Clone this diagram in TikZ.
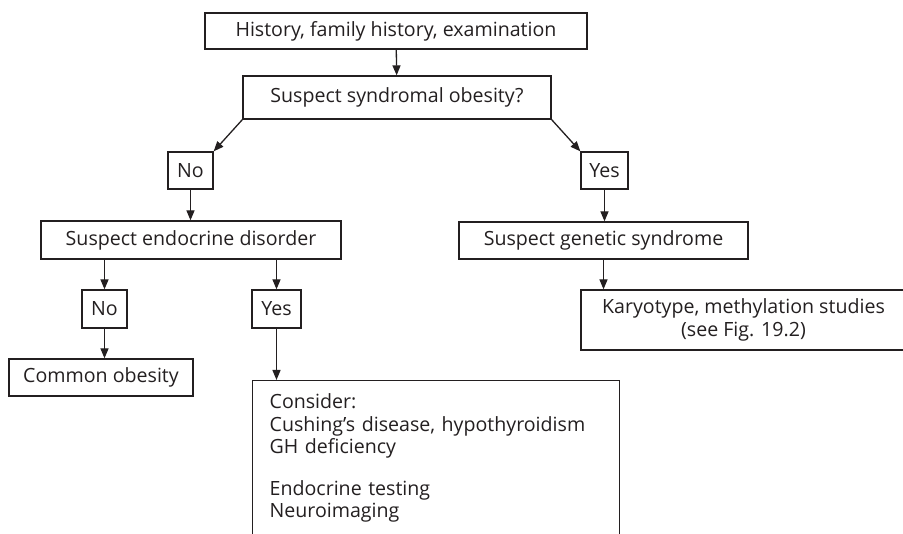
\documentclass[tikz,border=0pt]{standalone}
\usepackage{fontspec}
\setmainfont{Open Sans}
\usetikzlibrary{positioning,arrows.meta}
\definecolor{ink}{HTML}{231F20}
\begin{document}
\begin{tikzpicture}[x=1pt,y=1pt,
  box/.style={draw=ink,line width=1.3pt,inner sep=0pt,text=ink,
    font=\fontsize{19.6}{22.5}\selectfont},
  arr/.style={draw=ink,line width=1.3pt,-{Triangle[length=10pt,width=8pt]}}]
\useasboundingbox (0,0) rectangle (903,-534);
\clip (0,0) rectangle (903,-534);
\node[box,minimum width=382,minimum height=36] (hist) at (396,-31) {History, family history, examination};
\node[box,minimum width=308,minimum height=43] (synd) at (397,-97.5) {Suspect syndromal obesity?};
\node[box,minimum width=45,minimum height=37] (noA) at (190.5,-170.5) {No};
\node[box,minimum width=47,minimum height=37] (yesA) at (604.5,-170.5) {Yes};
\node[box,minimum width=300,minimum height=38] (endo) at (191,-240) {Suspect endocrine disorder};
\node[box,minimum width=289,minimum height=37] (gene) at (603.5,-240.5) {Suspect genetic syndrome};
\node[box,minimum width=45,minimum height=38] (noB) at (104.5,-309) {No};
\node[box,minimum width=49,minimum height=38] (yesB) at (276.5,-309) {Yes};
\node[box,minimum width=325,minimum height=60,align=center] (karyo) at (743.5,-320)
  {Karyotype, methylation studies\\(see Fig. 19.2)};
\node[box,minimum width=184,minimum height=37] (common) at (101,-377.5) {Common obesity};
\node[box,anchor=north west,text width=333,inner xsep=17,inner ysep=13,align=left] (cons) at (252,-380)
  {Consider:\\Cushing’s disease, hypothyroidism\\GH deficiency\\[19pt]Endocrine testing\\Neuroimaging\rule[-60pt]{0pt}{0pt}};
\draw[arr] (hist) -- (synd);
\draw[arr] (synd.south west) -- (noA.north east);
\draw[arr] (synd.south east) -- (yesA.north west);
\draw[arr] (noA) -- (noA |- endo.north);
\draw[arr] (endo.south -| noB) -- (noB);
\draw[arr] (endo.south -| yesB) -- (yesB);
\draw[arr] (noB) -- (noB |- common.north);
\draw[arr] (yesB) -- (yesB |- cons.north);
\draw[arr] (yesA) -- (yesA |- gene.north);
\draw[arr] (gene) -- (gene |- karyo.north);
\end{tikzpicture}
\end{document}
